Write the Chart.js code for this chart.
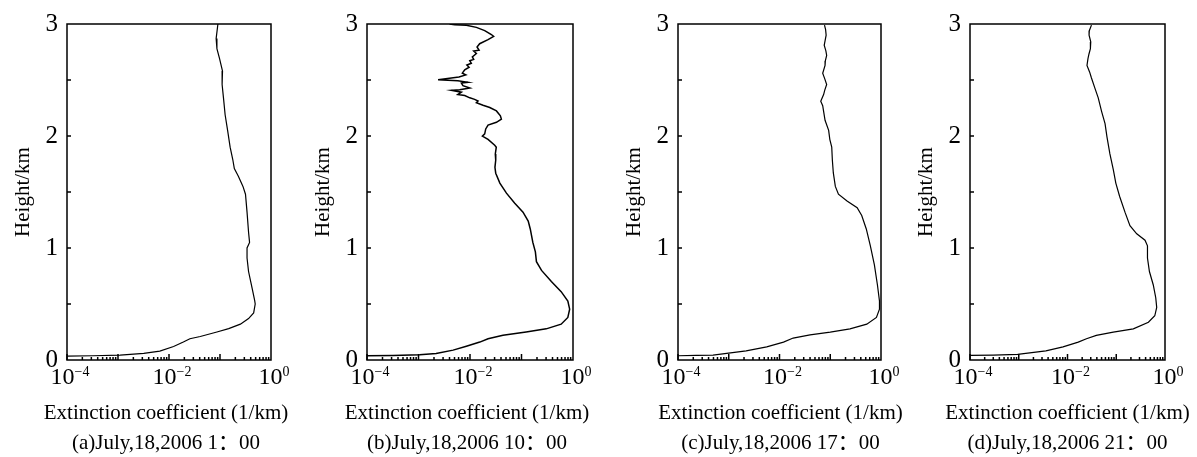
<!DOCTYPE html>
<html>
<head>
<meta charset="utf-8">
<script src="https://cdn.jsdelivr.net/npm/chart.js@4.4.1/dist/chart.umd.min.js"></script>
<style>
  body { margin: 0; background: #fff; }
  #wrap { position: relative; width: 1197px; height: 457px; overflow: hidden; }
  canvas { position: absolute; top: 0; }
</style>
</head>
<body>
<div id="wrap">
  <canvas id="panelA"></canvas>
  <canvas id="panelB"></canvas>
  <canvas id="panelC"></canvas>
  <canvas id="panelD"></canvas>
</div>
<script>
// (a) 1:00
const heightA = [3.00, 2.87, 2.78, 2.69, 2.58, 2.46, 2.34, 2.19, 2.05, 1.90, 1.79, 1.71, 1.64, 1.55, 1.48, 1.32, 1.14, 1.05, 1.00, 0.91, 0.79, 0.64, 0.53, 0.50, 0.42, 0.37, 0.32, 0.28, 0.25, 0.21, 0.19, 0.16, 0.12, 0.08, 0.06, 0.044, 0.038, 0.035];
const extA = [0.091, 0.084, 0.087, 0.098, 0.112, 0.110, 0.117, 0.126, 0.141, 0.158, 0.178, 0.191, 0.229, 0.282, 0.316, 0.339, 0.363, 0.380, 0.339, 0.339, 0.363, 0.427, 0.479, 0.490, 0.457, 0.363, 0.251, 0.148, 0.087, 0.041, 0.0257, 0.0191, 0.0123, 0.0066, 0.0032, 0.0011, 0.00032, 0.0001];

// (b) 10:00
const heightB = [3.00, 2.994, 2.988, 2.970, 2.941, 2.906, 2.889, 2.860, 2.824, 2.795, 2.766, 2.759, 2.737, 2.707, 2.684, 2.672, 2.649, 2.634, 2.614, 2.590, 2.561, 2.546, 2.526, 2.502, 2.493, 2.479, 2.473, 2.449, 2.429, 2.414, 2.408, 2.391, 2.370, 2.362, 2.341, 2.327, 2.312, 2.298, 2.274, 2.254, 2.224, 2.180, 2.151, 2.122, 2.098, 2.063, 2.019, 1.999, 1.969, 1.917, 1.90, 1.84, 1.785, 1.72, 1.668, 1.58, 1.49, 1.40, 1.32, 1.24, 1.17, 1.05, 0.966, 0.878, 0.80, 0.70, 0.61, 0.527, 0.454, 0.38, 0.32, 0.278, 0.249, 0.22, 0.19, 0.16, 0.123, 0.088, 0.059, 0.047, 0.041, 0.038];
const extB = [0.0040, 0.00505, 0.0085, 0.0133, 0.0193, 0.026, 0.0288, 0.0224, 0.0154, 0.0137, 0.0150, 0.0118, 0.0133, 0.0111, 0.0118, 0.0099, 0.0106, 0.0087, 0.0096, 0.0079, 0.0071, 0.0083, 0.0061, 0.0024, 0.0058, 0.0091, 0.0068, 0.0073, 0.0099, 0.0063, 0.00436, 0.0068, 0.0058, 0.0079, 0.0099, 0.0123, 0.0143, 0.0133, 0.0179, 0.0242, 0.0326, 0.0389, 0.0407, 0.0326, 0.0224, 0.0202, 0.0193, 0.0174, 0.0224, 0.0302, 0.0324, 0.0310, 0.0316, 0.0305, 0.0316, 0.038, 0.051, 0.074, 0.107, 0.135, 0.148, 0.166, 0.186, 0.195, 0.245, 0.380, 0.589, 0.794, 0.861, 0.794, 0.589, 0.302, 0.123, 0.0437, 0.0224, 0.0155, 0.0085, 0.0047, 0.0022, 0.00105, 0.00032, 0.0001];

// (c) 17:00
const heightC = [2.99, 2.95, 2.90, 2.85, 2.81, 2.76, 2.72, 2.67, 2.63, 2.56, 2.51, 2.46, 2.41, 2.37, 2.31, 2.27, 2.22, 2.14, 2.05, 1.97, 1.90, 1.785, 1.67, 1.55, 1.48, 1.42, 1.36, 1.29, 1.17, 1.02, 0.85, 0.67, 0.527, 0.454, 0.38, 0.32, 0.278, 0.249, 0.225, 0.196, 0.16, 0.117, 0.082, 0.059, 0.044, 0.041, 0.038];
const extC = [0.077, 0.081, 0.083, 0.079, 0.076, 0.082, 0.085, 0.080, 0.079, 0.071, 0.078, 0.085, 0.078, 0.074, 0.065, 0.071, 0.074, 0.079, 0.093, 0.098, 0.107, 0.110, 0.115, 0.126, 0.145, 0.214, 0.339, 0.417, 0.513, 0.617, 0.741, 0.851, 0.933, 0.933, 0.813, 0.525, 0.245, 0.100, 0.040, 0.0186, 0.012, 0.0056, 0.0022, 0.00091, 0.00049, 0.00023, 0.0001];

// (d) 21:00
const heightD = [2.99, 2.94, 2.90, 2.84, 2.78, 2.73, 2.69, 2.63, 2.57, 2.52, 2.43, 2.34, 2.22, 2.11, 1.99, 1.84, 1.70, 1.58, 1.46, 1.32, 1.20, 1.127, 1.07, 1.02, 0.91, 0.79, 0.67, 0.556, 0.47, 0.395, 0.337, 0.278, 0.249, 0.22, 0.19, 0.16, 0.117, 0.082, 0.05, 0.044, 0.041];
const extD = [0.031, 0.028, 0.0277, 0.0300, 0.0295, 0.0275, 0.0263, 0.0251, 0.0285, 0.0309, 0.0363, 0.0427, 0.050, 0.0589, 0.0646, 0.0741, 0.087, 0.098, 0.1175, 0.151, 0.191, 0.263, 0.389, 0.437, 0.437, 0.479, 0.575, 0.646, 0.676, 0.617, 0.457, 0.224, 0.087, 0.039, 0.0245, 0.0166, 0.0081, 0.0036, 0.00095, 0.0003, 0.0001];

const xTickValues = [1e-4, 1e-2, 1];
const xTickExponents = ['\u22124', '\u22122', '0'];
const yTickValues = [0, 1, 2, 3];
const xTitle = 'Extinction coefficient (1/km)';
const yTitle = 'Height/km';
const captions = ['(a)July,18,2006 1\uFF1A00', '(b)July,18,2006 10\uFF1A00', '(c)July,18,2006 17\uFF1A00', '(d)July,18,2006 21\uFF1A00'];

const FONT = '"Liberation Serif", "Times New Roman", "Noto Sans CJK SC", serif';
Chart.defaults.font.family = FONT;
Chart.defaults.color = '#000';

// box round the plot plus the small inward ticks
const frameTicks = {
    id: 'frameTicks',
    afterDatasetsDraw(chart) {
        const { ctx, chartArea: a, scales: { x, y } } = chart;
        ctx.save();
        ctx.strokeStyle = '#000';
        ctx.lineWidth = 1.5;
        ctx.strokeRect(a.left, a.top, a.right - a.left, a.bottom - a.top);
        ctx.beginPath();
        for (let n = -4; n < 0; n++) {
            for (let k = 1; k <= 9; k++) {
                const px = x.getPixelForValue(k * Math.pow(10, n));
                const len = k === 1 ? 6 : 3;
                ctx.moveTo(px, a.bottom);
                ctx.lineTo(px, a.bottom - len);
            }
        }
        for (let h = 0.5; h < 3; h += 0.5) {
            const py = y.getPixelForValue(h);
            ctx.moveTo(a.left, py);
            ctx.lineTo(a.left + 4, py);
        }
        ctx.stroke();
        ctx.restore();
    }
};

// 10^n tick labels, x title and caption (Chart.js squeezes axis titles to the axis width)
const bottomText = {
    id: 'bottomText',
    afterDraw(chart, args, opts) {
        const { ctx, chartArea: a, scales: { x } } = chart;
        const cx = (a.left + a.right) / 2 + (opts.shift || 0);
        ctx.save();
        ctx.fillStyle = '#000';
        xTickValues.forEach((v, i) => {
            const px = x.getPixelForValue(v);
            ctx.font = '24px ' + FONT;
            const wBase = ctx.measureText('10').width;
            ctx.font = '14px ' + FONT;
            const wExp = ctx.measureText(xTickExponents[i]).width;
            const start = px - (wBase + wExp) / 2 + 3;
            ctx.textAlign = 'left';
            ctx.textBaseline = 'alphabetic';
            ctx.font = '24px ' + FONT;
            ctx.fillText('10', start, a.bottom + 24);
            ctx.font = '14px ' + FONT;
            ctx.fillText(xTickExponents[i], start + wBase, a.bottom + 16);
        });
        ctx.font = '21px ' + FONT;
        ctx.textAlign = 'center';
        ctx.textBaseline = 'middle';
        ctx.fillText(xTitle, cx, a.bottom + 53);
        ctx.fillText(opts.caption, cx, a.bottom + 83);
        ctx.restore();
    }
};

const AXIS_W = 67, RIGHT_PAD = 32;

function makePanel(id, plotLeft, plotW, heights, exts, caption, lineW, shift) {
    const canvas = document.getElementById(id);
    canvas.width = AXIS_W + plotW + RIGHT_PAD;
    canvas.height = 457;
    canvas.style.left = (plotLeft - AXIS_W) + 'px';

    new Chart(canvas.getContext('2d'), {
        type: 'scatter',
        data: {
            datasets: [{
                data: heights.map((h, i) => ({ x: exts[i], y: h })),
                showLine: true,
                borderColor: '#000',
                borderWidth: lineW,
                pointRadius: 0,
                tension: 0
            }]
        },
        options: {
            responsive: false,
            animation: false,
            devicePixelRatio: 1,
            layout: { padding: { top: 19, right: RIGHT_PAD, left: 0, bottom: 0 } },
            plugins: {
                legend: { display: false },
                tooltip: { enabled: false },
                bottomText: { caption, shift }
            },
            scales: {
                x: {
                    type: 'logarithmic',
                    position: 'bottom',
                    min: 1e-4,
                    max: 1,
                    afterBuildTicks: s => { s.ticks = xTickValues.map(v => ({ value: v })); },
                    afterFit: s => { s.height = 97; },
                    grid: { display: false },
                    border: { display: false },
                    ticks: { display: false }
                },
                y: {
                    min: 0,
                    max: 3,
                    afterBuildTicks: s => { s.ticks = yTickValues.map(v => ({ value: v })); },
                    afterFit: s => { s.width = AXIS_W; },
                    grid: { display: false, drawTicks: false },
                    border: { display: false },
                    ticks: { font: { size: 25 }, padding: 9 },
                    title: {
                        display: true,
                        text: yTitle,
                        font: { size: 21 },
                        padding: { top: 11, bottom: 0 }
                    }
                }
            }
        },
        plugins: [frameTicks, bottomText]
    });
}

makePanel('panelA', 67, 204, heightA, extA, captions[0], 1.2, -3);
makePanel('panelB', 367, 206, heightB, extB, captions[1], 1.5, -3);
makePanel('panelC', 678, 203, heightC, extC, captions[2], 1.2, 1);
makePanel('panelD', 970, 195, heightD, extD, captions[3], 1.2, 0);
</script>
</body>
</html>
